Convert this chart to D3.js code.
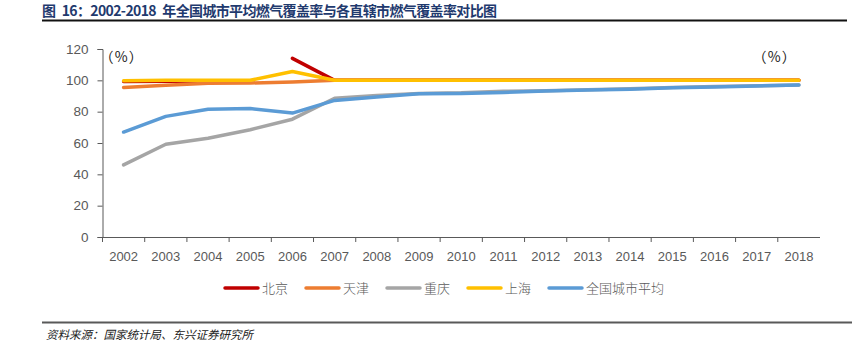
<!DOCTYPE html>
<html>
<head>
<meta charset="utf-8">
<script src="https://cdn.jsdelivr.net/npm/d3@7"></script>
<style>
    body { margin: 0; background: #fff; }
    svg { display: block; }
</style>
</head>
<body>
<div id="chart"></div>
<script>
// data
const years = ["2002","2003","2004","2005","2006","2007","2008","2009","2010",
    "2011","2012","2013","2014","2015","2016","2017","2018"];
const beijing  = [99.2, 99.4, 99.6, null, 114, 100, 100, 100, 100, 100, 100, 100, 100, 100, 100, 100, 100];
const tianjin  = [95.5, 96.8, 98.2, 98.3, 99, 100, 100, 100, 100, 100, 100, 100, 100, 100, 100, 100, 100];
const chongqing = [46, 59.2, 63, 68.5, 75.2, 88.6, 90.3, 91.6, 92, 93, 93.4, 94, 94.7, 95.4, 96, 96.5, 97.1];
const shanghai = [99.8, 100, 100, 100, 105.6, 100, 100, 100, 100, 100, 100, 100, 100, 100, 100, 100, 100];
const national = [67, 77, 81.5, 82, 79.1, 87.2, 89.3, 91.4, 91.6, 92.3, 93.2, 93.8, 94.3, 95.3, 95.8, 96.4, 97];
const yTicks = [0, 20, 40, 60, 80, 100, 120];

const series = [
    {name: "北京", values: beijing, color: "#C00000"},
    {name: "天津", values: tianjin, color: "#ED7D31"},
    {name: "重庆", values: chongqing, color: "#A5A5A5"},
    {name: "上海", values: shanghai, color: "#FFC000"},
    {name: "全国城市平均", values: national, color: "#5B9BD5"}
];

const W = 865, H = 353;
const margin = {top: 49, right: 45, bottom: 116, left: 102.5};
const width = W - margin.left - margin.right;
const height = H - margin.top - margin.bottom;
const cjk = "'Noto Sans CJK SC', sans-serif";

const svg = d3.select("#chart").append("svg")
    .attr("width", W)
    .attr("height", H);

// title + rules
svg.append("text")
    .attr("x", 42).attr("y", 16)
    .attr("font-family", cjk)
    .attr("font-size", 14).attr("font-weight", "bold")
    .attr("textLength", 455)
    .attr("lengthAdjust", "spacing")
    .attr("fill", "#1F3A6E")
    .text("图\u200216：2002-2018\u2002年全国城市平均燃气覆盖率与各直辖市燃气覆盖率对比图");

svg.append("line")
    .attr("x1", 42).attr("x2", 847).attr("y1", 20.5).attr("y2", 20.5)
    .attr("stroke", "#111").attr("stroke-width", 1.8);

svg.append("line")
    .attr("x1", 42).attr("x2", 852).attr("y1", 322.5).attr("y2", 322.5)
    .attr("stroke", "#595959").attr("stroke-width", 2);

svg.append("text")
    .attr("x", 46).attr("y", 339)
    .attr("font-family", cjk)
    .attr("font-size", 11.5).attr("font-style", "italic")
    .attr("fill", "#222")
    .text("资料来源：国家统计局、东兴证券研究所");

const g = svg.append("g")
    .attr("transform", "translate(" + margin.left + "," + margin.top + ")");

// scales
const x = d3.scaleBand()
    .domain(years)
    .range([0, width]);

const y = d3.scaleLinear()
    .domain([0, 120])
    .range([height, 0]);

// axes
const yAxis = d3.axisLeft(y).tickValues(yTicks).tickSize(5).tickPadding(9);
const xAxis = d3.axisBottom(x).tickSize(0).tickPadding(15);

const gy = g.append("g").attr("class", "y-axis").call(yAxis);
gy.select(".domain").attr("stroke", "#595959");
gy.selectAll(".tick line").attr("stroke", "#595959");
gy.selectAll("text")
    .attr("fill", "#595959")
    .attr("font-family", "'Liberation Sans Narrow', 'Arial Narrow', sans-serif")
    .attr("font-size", 13.5);

const gx = g.append("g").attr("class", "x-axis")
    .attr("transform", "translate(0," + height + ")")
    .call(xAxis);
gx.select(".domain").attr("stroke", "#595959").attr("d", "M0,0.5H" + width);
gx.selectAll("text")
    .attr("fill", "#595959")
    .attr("font-family", "'Liberation Sans Narrow', 'Arial Narrow', sans-serif")
    .attr("font-size", 13);

// x ticks on the band edges
g.append("g").selectAll("line")
    .data(years)
    .enter().append("line")
    .attr("x1", d => x(d)).attr("x2", d => x(d))
    .attr("y1", height).attr("y2", height + 5)
    .attr("stroke", "#595959");

// unit labels
[[-3, "（%）"], [650, "（%）"]].forEach(function (u) {
    g.append("text")
        .attr("x", u[0]).attr("y", 13)
        .attr("font-family", cjk)
        .attr("font-size", 14)
        .attr("letter-spacing", 1.2)
        .attr("fill", "#222")
        .text(u[1]);
});

// lines
const line = d3.line()
    .defined(d => d.v !== null)
    .x(d => x(d.year) + x.bandwidth() / 2)
    .y(d => y(d.v));

g.selectAll(".series")
    .data(series)
    .enter().append("path")
    .attr("class", "series")
    .attr("fill", "none")
    .attr("stroke", d => d.color)
    .attr("stroke-width", 3.5)
    .attr("stroke-linejoin", "round")
    .attr("stroke-linecap", "round")
    .attr("d", d => line(d.values.map((v, i) => ({year: years[i], v: v}))));

// legend
const legendX = [225, 306, 387, 468, 549];
const legend = svg.append("g").selectAll("g")
    .data(series)
    .enter().append("g")
    .attr("transform", (d, i) => "translate(" + legendX[i] + ",288)");

legend.append("line")
    .attr("x1", 0).attr("x2", 33)
    .attr("stroke", d => d.color)
    .attr("stroke-width", 3.5)
    .attr("stroke-linecap", "round");

legend.append("text")
    .attr("x", 37).attr("y", 5)
    .attr("font-family", cjk)
    .attr("font-size", 13)
    .attr("font-weight", 300)
    .attr("fill", "#595959")
    .text(d => d.name);
</script>
</body>
</html>
